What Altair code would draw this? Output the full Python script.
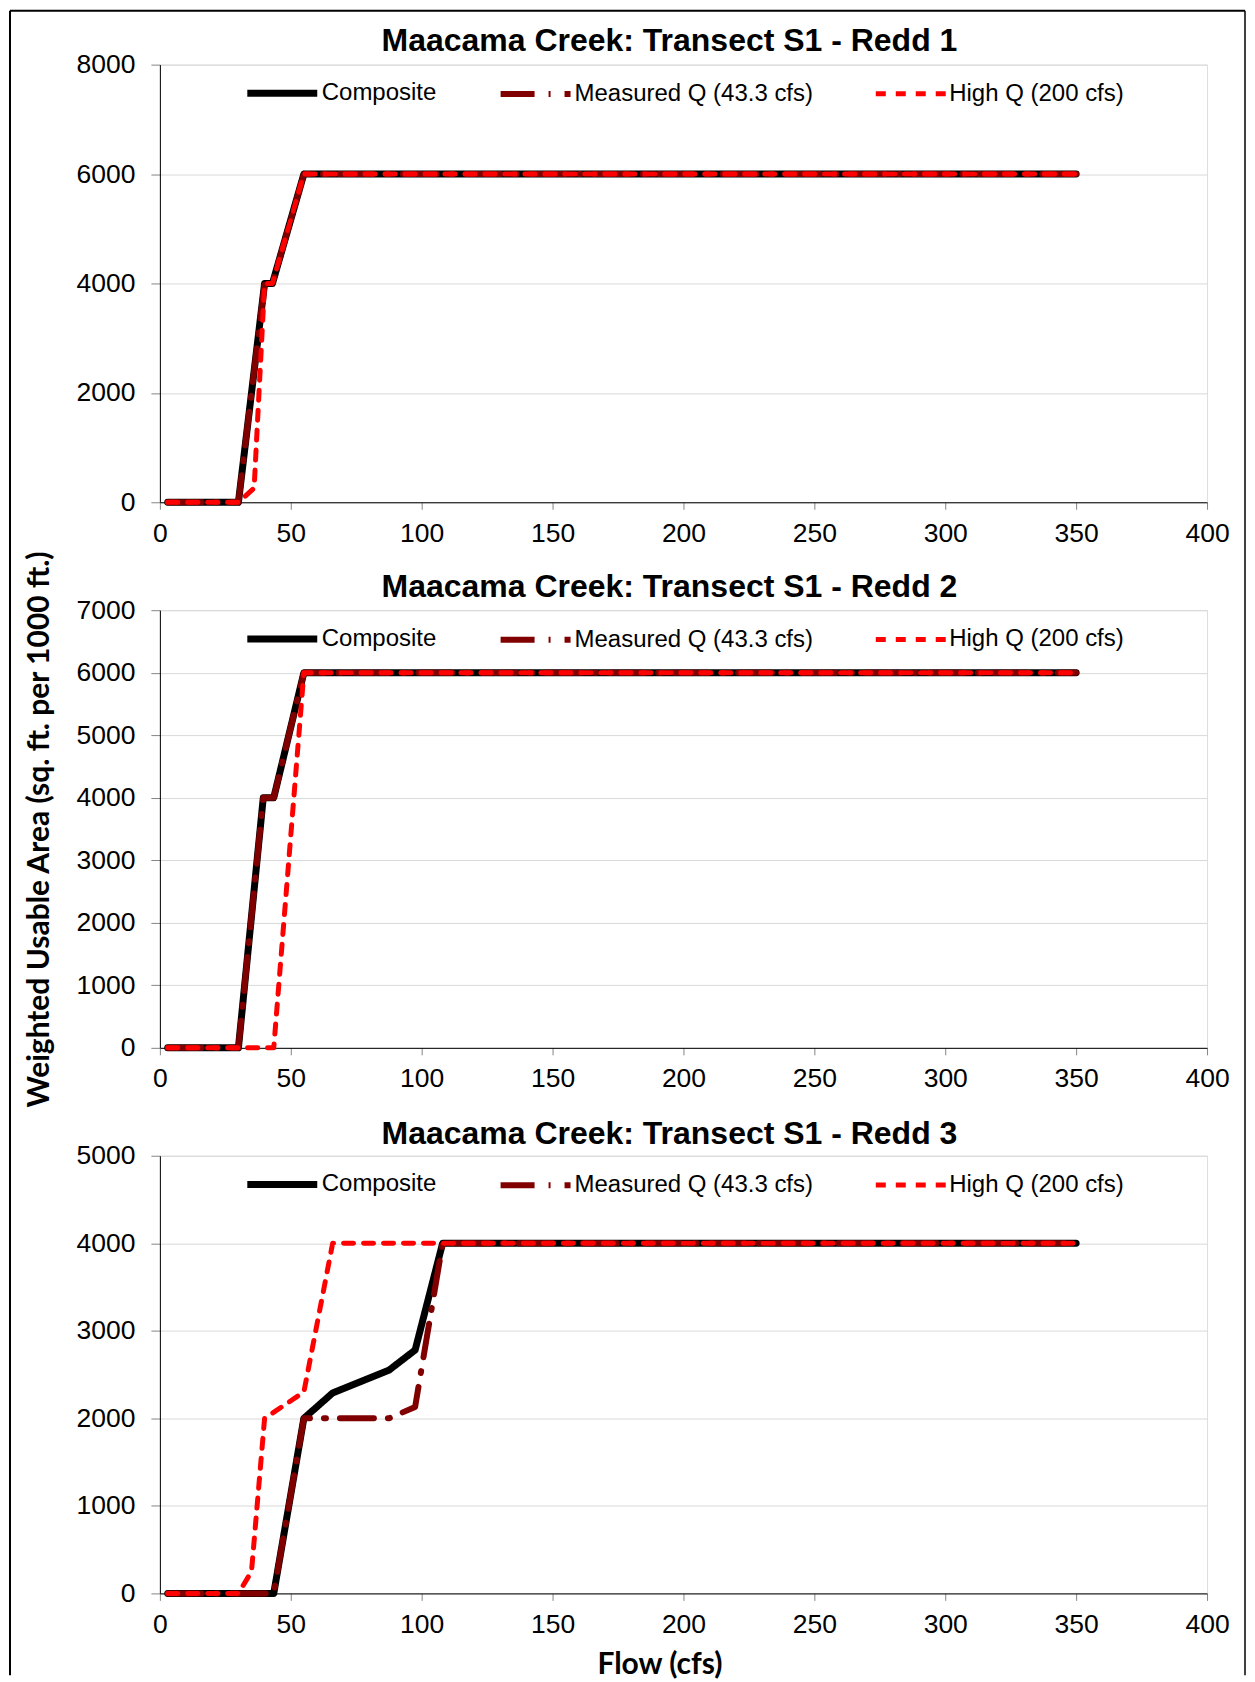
import altair as alt
import pandas as pd

SERIES = ["Composite", "Measured Q (43.3 cfs)", "High Q (200 cfs)"]
COLORS = ["#000000", "#800000", "#ff0000"]
DASHES = [[1, 0], [34, 14, 2, 14], [10, 10]]
WIDTHS = [7, 5, 5]

TITLES = [
    "Maacama Creek: Transect S1 - Redd 1",
    "Maacama Creek: Transect S1 - Redd 2",
    "Maacama Creek: Transect S1 - Redd 3",
]
X_TICKS = [0, 50, 100, 150, 200, 250, 300, 350, 400]
Y_MAX = [8000, 7000, 5000]
Y_TICKS = [
    [0, 2000, 4000, 6000, 8000],
    [0, 1000, 2000, 3000, 4000, 5000, 6000, 7000],
    [0, 1000, 2000, 3000, 4000, 5000],
]

# Redd 1
r1_comp_flow = [3, 30, 40, 43, 55, 350]
r1_comp_wua = [0, 0, 4000, 4000, 6000, 6000]
r1_meas_flow = [3, 30, 40, 43, 55, 350]
r1_meas_wua = [0, 0, 4000, 4000, 6000, 6000]
r1_high_flow = [3, 30, 36, 40, 43, 55, 350]
r1_high_wua = [0, 0, 260, 4000, 4000, 6000, 6000]

# Redd 2
r2_comp_flow = [3, 30, 39.5, 43.5, 55, 350]
r2_comp_wua = [0, 0, 4000, 4000, 6000, 6000]
r2_meas_flow = [3, 30, 39.5, 43.5, 55, 350]
r2_meas_wua = [0, 0, 4000, 4000, 6000, 6000]
r2_high_flow = [3, 43.5, 55, 350]
r2_high_wua = [0, 0, 6000, 6000]

# Redd 3
r3_comp_flow = [3, 43.5, 55, 66, 87.5, 97.5, 108, 350]
r3_comp_wua = [0, 0, 2000, 2290, 2550, 2780, 4000, 4000]
r3_meas_flow = [3, 43.5, 55, 66, 87.5, 97.5, 108, 350]
r3_meas_wua = [0, 0, 2000, 2000, 2000, 2130, 4000, 4000]
r3_high_flow = [3, 30, 35, 40, 55, 66, 350]
r3_high_wua = [0, 0, 250, 2000, 2300, 4000, 4000]

PANELS = [
    [(r1_comp_flow, r1_comp_wua), (r1_meas_flow, r1_meas_wua), (r1_high_flow, r1_high_wua)],
    [(r2_comp_flow, r2_comp_wua), (r2_meas_flow, r2_meas_wua), (r2_high_flow, r2_high_wua)],
    [(r3_comp_flow, r3_comp_wua), (r3_meas_flow, r3_meas_wua), (r3_high_flow, r3_high_wua)],
]

TICK_FONT = "Liberation Sans"
AXIS_TITLE_FONT = "Lato"
TITLE_OFFSETS = [-73, -79, -33]


def frame_layers():
    # outer chart-area border (decoration), positioned relative to panel 1's plot area
    one = pd.DataFrame({"k": [0]})
    left = alt.Chart(one).mark_rule(color="black", strokeWidth=2).encode(
        x=alt.value(-150), y=alt.value(-54), y2=alt.value(1612))
    right = alt.Chart(one).mark_rule(color="black", strokeWidth=1.5).encode(
        x=alt.value(1086), y=alt.value(-54), y2=alt.value(1612))
    top = alt.Chart(one).mark_rule(color="black", strokeWidth=2).encode(
        x=alt.value(-150), x2=alt.value(1086), y=alt.value(-54))
    return [left, right, top]


def make_panel(i):
    legend = alt.Legend(
        orient="none", legendX=84, legendY=-10, direction="horizontal", title=None,
        symbolType="stroke", symbolSize=4900, labelFont=TICK_FONT, labelFontSize=24,
        labelColor="black", labelOffset=1, labelLimit=600, columnPadding=52, padding=0,
    )
    xaxis = alt.Axis(
        values=X_TICKS, grid=False, domainColor="black", domainWidth=1,
        tickColor="#858585", tickSize=7, labelPadding=11, labelFont=TICK_FONT,
        labelFontSize=26.5, labelColor="black", labelFlush=False, format="d",
        title="Flow (cfs)" if i == 2 else None,
        titleFont=AXIS_TITLE_FONT, titleFontSize=30, titleFontWeight="bold",
        titleColor="black", titleX=500, titleY=71, titleBaseline="middle",
        titleAlign="center",
    )
    yaxis = alt.Axis(
        values=Y_TICKS[i], grid=True, gridColor="#d9d9d9", gridWidth=1,
        domainColor="black", domainWidth=1, tickColor="#858585", tickSize=9,
        labelPadding=16, labelFont=TICK_FONT, labelFontSize=26.5, labelColor="black",
        format="d",
        title="Weighted Usable Area (sq. ft. per 1000 ft.)" if i == 1 else None,
        titleFont=AXIS_TITLE_FONT, titleFontSize=30, titleFontWeight="bold",
        titleColor="black", titleX=-120, titleY=219, titleBaseline="middle",
        titleAlign="center", titleAngle=270,
    )
    layers = []
    for s, (fl, wu) in enumerate(PANELS[i]):
        df = pd.DataFrame({"flow": fl, "wua": wu, "series": SERIES[s]})
        layers.append(
            alt.Chart(df).mark_line(strokeCap="round", strokeJoin="round").encode(
                x=alt.X("flow:Q", scale=alt.Scale(domain=[0, 400], nice=False), axis=xaxis),
                y=alt.Y("wua:Q", scale=alt.Scale(domain=[0, Y_MAX[i]], nice=False), axis=yaxis),
                color=alt.Color("series:N", scale=alt.Scale(domain=SERIES, range=COLORS), legend=legend),
                strokeDash=alt.StrokeDash("series:N", scale=alt.Scale(domain=SERIES, range=DASHES), legend=legend),
                strokeWidth=alt.StrokeWidth("series:N", scale=alt.Scale(domain=SERIES, range=WIDTHS), legend=legend),
            )
        )
    if i == 0:
        layers = layers + frame_layers()
    return alt.layer(*layers).properties(
        width=1048, height=438,
        title=alt.TitleParams(
            TITLES[i], font=TICK_FONT, fontSize=32, fontWeight="bold", color="black",
            anchor="middle", dx=-14, baseline="alphabetic", offset=TITLE_OFFSETS[i],
            frame="group",
        ),
    )


chart = alt.vconcat(*[make_panel(i) for i in range(3)], spacing=108, bounds="flush").resolve_scale(
    x="independent", y="independent", color="independent",
    strokeDash="independent", strokeWidth="independent",
).resolve_legend(
    color="independent", strokeDash="independent", strokeWidth="independent",
).properties(
    padding={"left": 0, "top": 0, "right": 0, "bottom": 0},
).configure_view(
    stroke="#858585", strokeWidth=1,
).configure(background="white")

chart.save("out.html", embed_options={"renderer": "svg", "actions": False})
